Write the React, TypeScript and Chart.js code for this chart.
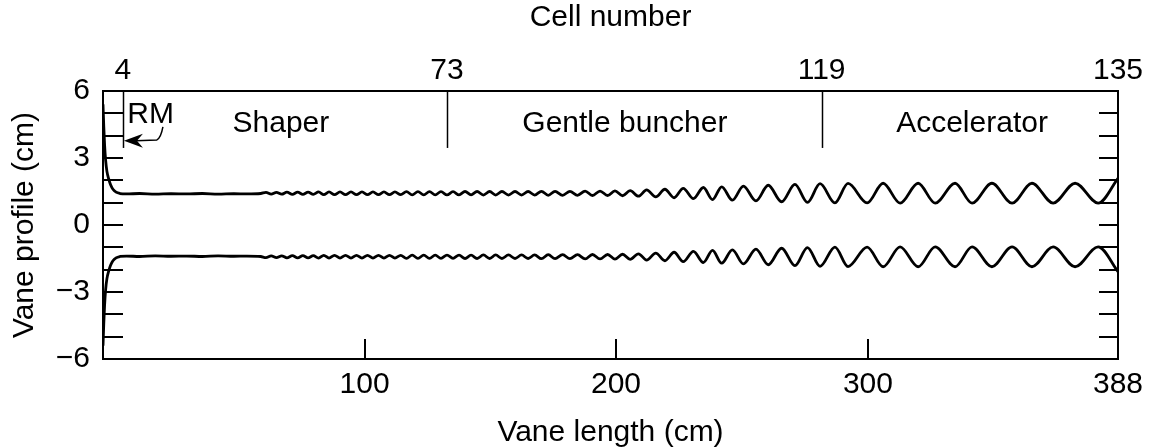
import { useEffect, useRef } from 'react';
import { Chart, registerables } from 'chart.js';

Chart.register(...registerables);

const FONT = '"Liberation Sans", Arial, Helvetica, sans-serif';

// Vane length (cm) of each read point of the upper vane profile
const vaneLengthCm = [
  0, 0.3, 0.6, 1.0, 1.5, 2.2, 2.9, 3.8, 5.0, 6.5, 9, 14, 20, 26, 32, 38, 44, 50, 55, 60.3,
  62.3, 64.3, 66.3, 68.3, 70.3, 72.4, 74.4, 76.4, 78.4, 80.4, 82.4, 84.4, 86.4, 88.5, 90.6, 92.7,
  94.8, 96.9, 99.0, 101.1, 103.2, 105.3, 107.4, 109.5, 111.6, 113.8, 116.0, 118.2, 120.4, 122.6,
  124.8, 127.0, 129.2, 131.5, 133.8, 136.1, 138.4, 140.7, 143.0, 145.4, 147.8, 150.1, 152.5, 155.0,
  157.5, 160.0, 162.5, 165.0, 167.6, 170.2, 172.8, 175.7, 178.5, 181.4, 184.3, 187.1, 190.0, 192.9,
  195.7, 198.6, 201.5, 204.7, 207.8, 211.3, 214.8, 218.3, 221.8, 225.7, 229.5, 233.0, 236.5, 240.6,
  244.8, 249.6, 254.3, 259.4, 264.5, 269.3, 274.1, 279.8, 284.8, 292.1, 298.2, 304.7, 311.6, 318.1,
  325.7, 332.2, 339.8, 347.5, 355.1, 363.2, 371.6, 380.4, 388.0,
];

// Upper vane profile (cm) at those lengths
const upperVaneCm = [
  5.4, 4.4, 3.6, 2.9, 2.4, 2.05, 1.8, 1.6, 1.47, 1.41, 1.39, 1.41, 1.38, 1.40, 1.39, 1.41, 1.38, 1.40, 1.39, 1.41,
  1.46, 1.38, 1.46, 1.38, 1.47, 1.37, 1.47, 1.37, 1.47, 1.37, 1.48, 1.36, 1.48, 1.36, 1.48, 1.36,
  1.48, 1.36, 1.48, 1.36, 1.48, 1.36, 1.48, 1.36, 1.48, 1.36, 1.49, 1.35, 1.49, 1.35,
  1.49, 1.35, 1.49, 1.35, 1.49, 1.35, 1.50, 1.35, 1.50, 1.34, 1.50, 1.34, 1.50, 1.34,
  1.50, 1.34, 1.50, 1.34, 1.51, 1.33, 1.51, 1.33, 1.51, 1.33, 1.52, 1.32, 1.52, 1.32,
  1.53, 1.31, 1.54, 1.29, 1.57, 1.26, 1.60, 1.22, 1.64, 1.18, 1.68, 1.14, 1.71, 1.11,
  1.74, 1.08, 1.78, 1.04, 1.82, 1.01, 1.85, 0.99, 1.86, 0.99, 1.87, 0.98, 1.87, 0.98,
  1.87, 0.98, 1.87, 0.98, 1.87, 0.98, 1.87, 0.98, 2.09,
];

// The lower vane is drawn as the mirror image of the upper one in the reference
const lowerVaneCm = upperVaneCm.map((v) => -v);

// Top axis: cell numbers and where they fall along the vane (cm)
const cellNumbers = [4, 73, 119, 135];
const cellPositionsCm = [7.6, 131.5, 274.7, 388];

// Bottom axis: tick labels and where the reference draws them (cm)
const lengthTickLabels = ['100', '200', '300', '388'];
const lengthTickPositionsCm = [100, 196.1, 292.4, 388];

// Left axis: tick marks at every integer, labels at these values
const profileTickValues = [-6, -5, -4, -3, -2, -1, 0, 1, 2, 3, 4, 5, 6];
const profileTickLabels = [-6, -3, 0, 3, 6];

// Section names and their centre along the vane (cm)
const sectionNames = ['Shaper', 'Gentle buncher', 'Accelerator'];
const sectionCentresCm = [68.0, 199.5, 332.2];

const fmt = (v: number) => (v < 0 ? '\u2212' + Math.abs(v) : String(v));

const overlay = {
  id: 'overlay',
  afterDraw(chart: any) {
    const { ctx, chartArea: a, scales } = chart;
    const x = scales.x;
    const x2 = scales.x2;
    const y = scales.y;
    const line = (x0: number, y0: number, x1: number, y1: number) => {
      ctx.beginPath();
      ctx.moveTo(x0, y0);
      ctx.lineTo(x1, y1);
      ctx.stroke();
    };
    ctx.save();
    ctx.strokeStyle = '#000';
    ctx.fillStyle = '#000';
    ctx.lineWidth = 2;
    ctx.strokeRect(a.left, a.top, a.right - a.left, a.bottom - a.top);

    // inward ticks on left & right axes
    y.ticks.forEach((t: any) => {
      if (t.value <= y.min || t.value >= y.max) return;
      const py = Math.round(y.getPixelForValue(t.value));
      line(a.left, py, a.left + 20, py);
      line(a.right - 19, py, a.right, py);
    });
    // inward ticks on bottom axis
    lengthTickPositionsCm.forEach((v) => {
      if (v >= x.max) return;
      const px = Math.round(x.getPixelForValue(v));
      line(px, a.bottom, px, a.bottom - 20);
    });
    // long inward ticks at section borders on top axis
    ctx.lineWidth = 1.5;
    cellPositionsCm.forEach((v) => {
      if (v >= x2.max) return;
      const px = Math.round(x2.getPixelForValue(v)) + 0.5;
      line(px, a.top, px, y.getPixelForValue(3.45));
    });

    // section labels
    ctx.font = `30px ${FONT}`;
    ctx.textAlign = 'center';
    ctx.textBaseline = 'alphabetic';
    sectionNames.forEach((s, i) => {
      ctx.fillText(s, x.getPixelForValue(sectionCentresCm[i]), y.getPixelForValue(4.17));
    });
    ctx.fillText('RM', x.getPixelForValue(18.2), y.getPixelForValue(4.57));

    // RM arrow
    const p0x = x.getPixelForValue(22.9), p0y = y.getPixelForValue(4.39);
    const p1x = x.getPixelForValue(20.6), p1y = y.getPixelForValue(3.81);
    const tx = x.getPixelForValue(8.0), ty = y.getPixelForValue(3.77);
    ctx.lineWidth = 1.5;
    ctx.beginPath();
    ctx.moveTo(p0x, p0y);
    ctx.quadraticCurveTo(p0x - 2, p1y - 2, p1x, p1y);
    ctx.lineTo(tx + 12, ty);
    ctx.stroke();
    ctx.beginPath();
    ctx.moveTo(tx, ty);
    ctx.lineTo(tx + 19, ty - 7);
    ctx.lineTo(tx + 13, ty);
    ctx.lineTo(tx + 19, ty + 7);
    ctx.closePath();
    ctx.fill();
    ctx.restore();
  },
};

export default function App() {
  const ref = useRef<HTMLCanvasElement | null>(null);
  useEffect(() => {
    if (!ref.current) return;
    const upper = vaneLengthCm.map((v, i) => ({ x: v, y: upperVaneCm[i] }));
    const lower = vaneLengthCm.map((v, i) => ({ x: v, y: lowerVaneCm[i] }));
    const tickFont = { family: FONT, size: 30 };
    const titleFont = { family: FONT, size: 30, lineHeight: 1.0 };
    const chart = new Chart(ref.current, {
      type: 'line',
      data: {
        datasets: [
          { data: upper, borderColor: '#000', borderWidth: 2.8, pointRadius: 0, cubicInterpolationMode: 'monotone', fill: false },
          { data: lower, borderColor: '#000', borderWidth: 2.8, pointRadius: 0, cubicInterpolationMode: 'monotone', fill: false },
        ],
      },
      options: {
        animation: false,
        responsive: false,
        devicePixelRatio: 1,
        parsing: false as any,
        layout: { padding: { left: 0, top: 0, bottom: 0, right: 41 } },
        plugins: { legend: { display: false }, tooltip: { enabled: false } },
        scales: {
          x: {
            type: 'linear',
            position: 'bottom',
            min: 0,
            max: 388,
            grid: { display: false, drawTicks: false },
            border: { display: false },
            afterBuildTicks: (s: any) => {
              s.ticks = lengthTickPositionsCm.map((v) => ({ value: v }));
            },
            afterFit: (s: any) => {
              s.height = 89;
            },
            ticks: {
              autoSkip: false,
              maxRotation: 0,
              padding: 8,
              color: '#000',
              font: tickFont,
              callback: (_v: any, i: number) => lengthTickLabels[i],
            },
            title: { display: true, text: 'Vane length (cm)', color: '#000', font: titleFont, padding: { top: 0, bottom: 0 } },
          },
          x2: {
            type: 'linear',
            position: 'top',
            min: 0,
            max: 388,
            grid: { display: false, drawTicks: false },
            border: { display: false },
            afterBuildTicks: (s: any) => {
              s.ticks = cellPositionsCm.map((v) => ({ value: v }));
            },
            afterFit: (s: any) => {
              s.height = 91;
            },
            ticks: {
              autoSkip: false,
              maxRotation: 0,
              padding: 2,
              color: '#000',
              font: tickFont,
              callback: (_v: any, i: number) => String(cellNumbers[i]),
            },
            title: { display: true, text: 'Cell number', color: '#000', font: titleFont, padding: { top: 3, bottom: 0 } },
          },
          y: {
            type: 'linear',
            position: 'left',
            min: -6,
            max: 6,
            grid: { display: false, drawTicks: false },
            border: { display: false },
            afterBuildTicks: (s: any) => {
              s.ticks = profileTickValues.map((v) => ({ value: v }));
            },
            afterFit: (s: any) => {
              s.width = 103;
            },
            ticks: {
              autoSkip: false,
              padding: 13,
              color: '#000',
              font: tickFont,
              callback: (v: any) => (profileTickLabels.includes(Number(v)) ? fmt(Number(v)) : ''),
            },
            title: { display: true, text: 'Vane profile (cm)', color: '#000', font: titleFont, padding: { top: 10, bottom: 0 } },
          },
        },
      } as any,
      plugins: [overlay],
    });
    return () => chart.destroy();
  }, []);
  return (
    <div style={{ position: 'absolute', left: 0, top: 0, width: 1159, height: 448, background: '#fff' }}>
      <canvas ref={ref} width={1159} height={448} style={{ width: 1159, height: 448, display: 'block' }} />
    </div>
  );
}
